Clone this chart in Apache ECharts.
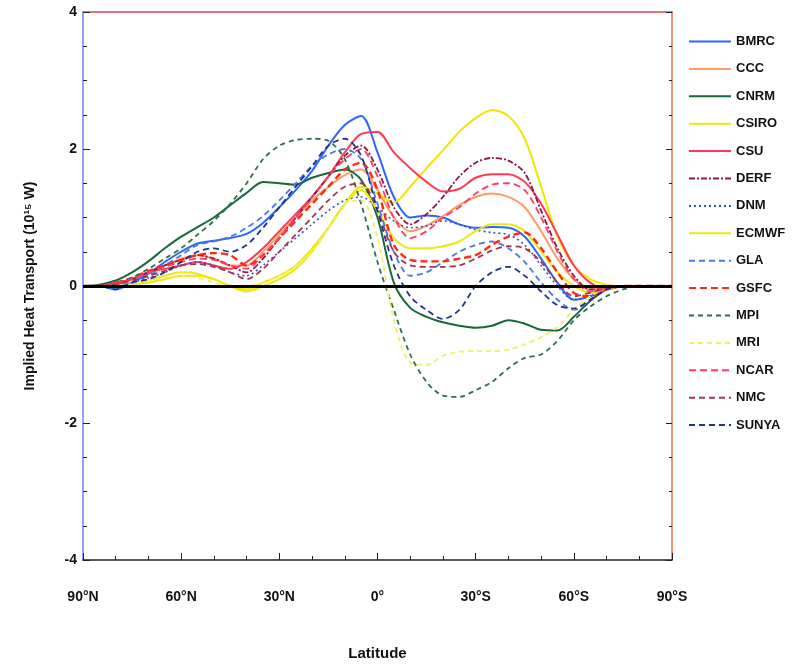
<!DOCTYPE html>
<html>
<head>
<meta charset="utf-8">
<script src="https://cdn.jsdelivr.net/npm/echarts@6/dist/echarts.min.js"></script>
<style>
  html, body { margin: 0; padding: 0; background: #fff; }
  #main { width: 808px; height: 670px; }
</style>
</head>
<body>
<div id="main"></div>
<script>
// latitude in degrees north (90N ... 90S)
var lats = [90,85,80,75,70,65,60,55,50,45,40,35,30,25,20,15,10,5,0,-5,-10,-15,-20,-25,-30,-35,-40,-45,-50,-55,-60,-65,-70,-75,-80,-85,-90];

var BMRC  = [0,0,-0.05,0.05,0.18,0.35,0.5,0.62,0.66,0.7,0.76,0.92,1.15,1.4,1.68,2.05,2.35,2.48,1.95,1.3,1.0,1.03,1.0,0.9,0.85,0.86,0.85,0.72,0.4,0.05,-0.2,-0.15,-0.04,0,0,0,0];
var CCC   = [0,0,0.03,0.1,0.2,0.3,0.4,0.45,0.4,0.3,0.3,0.5,0.75,1.0,1.25,1.45,1.62,1.7,1.4,1.0,0.8,0.88,1.02,1.18,1.3,1.35,1.3,1.15,0.8,0.4,0.1,-0.05,-0.03,0,0,0,0];
var CNRM  = [0,0.02,0.08,0.2,0.36,0.55,0.72,0.86,1.0,1.18,1.36,1.52,1.5,1.48,1.58,1.65,1.7,1.55,1.0,0.05,-0.32,-0.45,-0.53,-0.58,-0.61,-0.58,-0.5,-0.55,-0.64,-0.65,-0.45,-0.22,-0.05,0,0,0,0];
var CSIRO = [0,0,0,0.02,0.05,0.1,0.15,0.15,0.1,0.0,-0.05,0.05,0.15,0.3,0.55,0.85,1.2,1.45,1.35,1.22,1.45,1.72,1.98,2.25,2.45,2.57,2.48,2.15,1.45,0.72,0.3,0.1,0.02,0,0,0,0];
var CSU   = [0,0,0.05,0.1,0.2,0.25,0.3,0.35,0.3,0.25,0.35,0.55,0.8,1.05,1.3,1.6,1.95,2.22,2.25,1.95,1.72,1.52,1.38,1.42,1.58,1.63,1.63,1.52,1.2,0.75,0.3,0.05,-0.05,0,0,0,0];
var DERF  = [0,0,0.02,0.1,0.2,0.3,0.38,0.45,0.4,0.3,0.2,0.4,0.7,1.0,1.3,1.6,1.9,2.05,1.7,1.15,0.9,1.05,1.3,1.6,1.8,1.87,1.83,1.65,1.1,0.55,0.15,-0.05,-0.05,0,0,0,0];
var DNM   = [0,0,0,0.05,0.12,0.2,0.3,0.35,0.3,0.2,0.15,0.3,0.5,0.7,0.9,1.1,1.25,1.3,1.15,0.95,0.85,0.88,0.95,0.9,0.82,0.78,0.75,0.6,0.3,0.0,-0.2,-0.15,-0.05,0,0,0,0];
var ECMWF = [0,0,0,0.02,0.08,0.15,0.2,0.18,0.1,0.0,-0.08,0.0,0.1,0.25,0.5,0.85,1.2,1.4,1.1,0.7,0.55,0.55,0.58,0.65,0.8,0.9,0.9,0.8,0.5,0.2,0.0,-0.1,-0.05,0,0,0,0];
var GLA   = [0,0,0,0.05,0.15,0.3,0.45,0.6,0.65,0.72,0.85,1.02,1.25,1.5,1.75,1.92,2.0,1.85,1.2,0.5,0.15,0.2,0.35,0.5,0.6,0.65,0.55,0.35,0.05,-0.2,-0.35,-0.2,-0.05,0,0,0,0];
var GSFC  = [0,0,0.05,0.12,0.22,0.3,0.38,0.45,0.48,0.45,0.3,0.45,0.7,0.95,1.2,1.45,1.7,1.8,1.4,0.6,0.38,0.36,0.36,0.4,0.45,0.6,0.72,0.78,0.55,0.2,-0.1,-0.15,-0.05,0,0,0,0];
var MPI   = [0,0,0.03,0.12,0.25,0.4,0.55,0.75,0.95,1.2,1.5,1.85,2.05,2.13,2.15,2.12,1.85,1.2,0.35,-0.35,-1.0,-1.4,-1.6,-1.62,-1.52,-1.4,-1.2,-1.05,-1.0,-0.8,-0.5,-0.3,-0.15,-0.05,0,0,0];
var MRI   = [0,0,0,0.03,0.08,0.12,0.15,0.12,0.05,0.0,0.0,0.05,0.15,0.3,0.5,0.85,1.2,1.25,0.7,-0.5,-1.12,-1.15,-1.02,-0.96,-0.95,-0.95,-0.93,-0.85,-0.75,-0.6,-0.35,-0.15,-0.03,0,0,0,0];
var NCAR  = [0,0,0.04,0.1,0.2,0.28,0.35,0.4,0.38,0.3,0.25,0.45,0.7,1.0,1.3,1.6,1.85,2.0,1.6,1.0,0.7,0.8,1.0,1.15,1.35,1.48,1.5,1.4,1.0,0.5,0.1,-0.08,-0.04,0,0,0,0];
var NMC   = [0,0,0.02,0.08,0.15,0.22,0.3,0.32,0.28,0.2,0.1,0.25,0.5,0.75,1.0,1.25,1.45,1.5,1.1,0.5,0.3,0.28,0.28,0.3,0.4,0.52,0.58,0.55,0.35,0.05,-0.15,-0.1,-0.03,0,0,0,0];
var SUNYA = [0,0,-0.05,0.05,0.1,0.2,0.35,0.5,0.55,0.5,0.6,0.85,1.15,1.45,1.75,2.05,2.15,1.9,1.1,0.3,-0.15,-0.35,-0.48,-0.35,0.0,0.2,0.28,0.15,-0.08,-0.28,-0.33,-0.2,-0.05,0,0,0,0];

var models = ['BMRC','CCC','CNRM','CSIRO','CSU','DERF','DNM','ECMWF','GLA','GSFC','MPI','MRI','NCAR','NMC','SUNYA'];
var values = [BMRC, CCC, CNRM, CSIRO, CSU, DERF, DNM, ECMWF, GLA, GSFC, MPI, MRI, NCAR, NMC, SUNYA];
var colors = ['#2a66ff','#ff9a62','#17683a','#f2e600','#ff3a50','#8a1848','#3450c8','#eaea10','#4a78e8','#ff2a14','#2f6e4c','#f0f060','#ff3c66','#a8344a','#22328e'];
var dashes = ['solid','solid','solid','solid','solid',[6,2,2,2],[2,3],'solid',[6,4],[7,4],[5,4],[5,4],[7,4],[6,4],[6,4]];
var widths = [2,2,2,2,2,1.8,1.6,2,1.8,2.4,1.8,1.8,1.8,1.8,1.8];

var font = '"Liberation Sans Narrow", "Liberation Sans", Arial, sans-serif';

var myChart = echarts.init(document.getElementById('main'));

var series = models.map(function (name, i) {
    var s = {
        name: name,
        type: 'line',
        smooth: 0.3,
        symbol: 'none',
        data: lats.map(function (lat, j) { return [lat, values[i][j]]; }),
        lineStyle: { color: colors[i], width: widths[i], type: dashes[i] },
        itemStyle: { color: colors[i] }
    };
    if (i === 0) {
        s.markLine = {
            silent: true,
            symbol: 'none',
            label: { show: false },
            lineStyle: { color: '#000', width: 3, type: 'solid' },
            data: [{ yAxis: 0 }]
        };
    }
    return s;
});

var option = {
    animation: false,
    backgroundColor: '#fff',
    grid: { left: 83, right: 136, top: 12, bottom: 110 },
    legend: {
        orient: 'vertical',
        left: 683,
        top: 30,
        itemWidth: 42,
        itemHeight: 14,
        itemGap: 14.4,
        itemStyle: { opacity: 0 },
        textStyle: { fontFamily: font, fontSize: 13, fontWeight: 'bold', color: '#111' },
        data: models
    },
    xAxis: [{
        type: 'value',
        min: -90,
        max: 90,
        interval: 30,
        inverse: true,
        name: 'Latitude',
        nameLocation: 'middle',
        nameGap: 86,
        nameTextStyle: { fontFamily: font, fontSize: 15, fontWeight: 'bold', color: '#111' },
        axisLine: { onZero: false, lineStyle: { color: '#222', width: 1.5 } },
        axisTick: { inside: true, length: 7, lineStyle: { color: '#222' } },
        minorTick: { show: true, splitNumber: 3, length: 4, lineStyle: { color: '#222' } },
        splitLine: { show: false },
        axisLabel: {
            margin: 30,
            fontFamily: font, fontSize: 14, fontWeight: 'bold', color: '#111',
            formatter: function (v) {
                if (v > 0) return v + '°N';
                if (v < 0) return (-v) + '°S';
                return '0°';
            }
        }
    }, {
        type: 'value',
        min: -90,
        max: 90,
        inverse: true,
        position: 'top',
        axisLine: { show: true, onZero: false, lineStyle: { color: '#e04848', width: 1.5 } },
        axisTick: { show: false },
        axisLabel: { show: false },
        splitLine: { show: false }
    }],
    yAxis: [{
        type: 'value',
        min: -4,
        max: 4,
        interval: 2,
        name: 'Implied Heat Transport (10¹⁵ W)',
        nameLocation: 'middle',
        nameGap: 46,
        nameTextStyle: { fontFamily: font, fontSize: 14, fontWeight: 'bold', color: '#111' },
        axisLine: { show: true, onZero: false, lineStyle: { color: '#6a86f0', width: 1.5 } },
        axisTick: { inside: true, length: 7, lineStyle: { color: '#222' } },
        minorTick: { show: true, splitNumber: 4, length: 4, lineStyle: { color: '#222' } },
        splitLine: { show: false },
        axisLabel: { margin: 6, fontFamily: font, fontSize: 14, fontWeight: 'bold', color: '#111' }
    }, {
        type: 'value',
        min: -4,
        max: 4,
        interval: 2,
        position: 'right',
        axisLine: { show: true, onZero: false, lineStyle: { color: '#ee6a4a', width: 1.5 } },
        axisTick: { inside: true, length: 6, lineStyle: { color: '#222' } },
        minorTick: { show: true, splitNumber: 4, length: 3, lineStyle: { color: '#222' } },
        splitLine: { show: false },
        axisLabel: { show: false }
    }],
    series: series
};

myChart.setOption(option);
</script>
</body>
</html>
